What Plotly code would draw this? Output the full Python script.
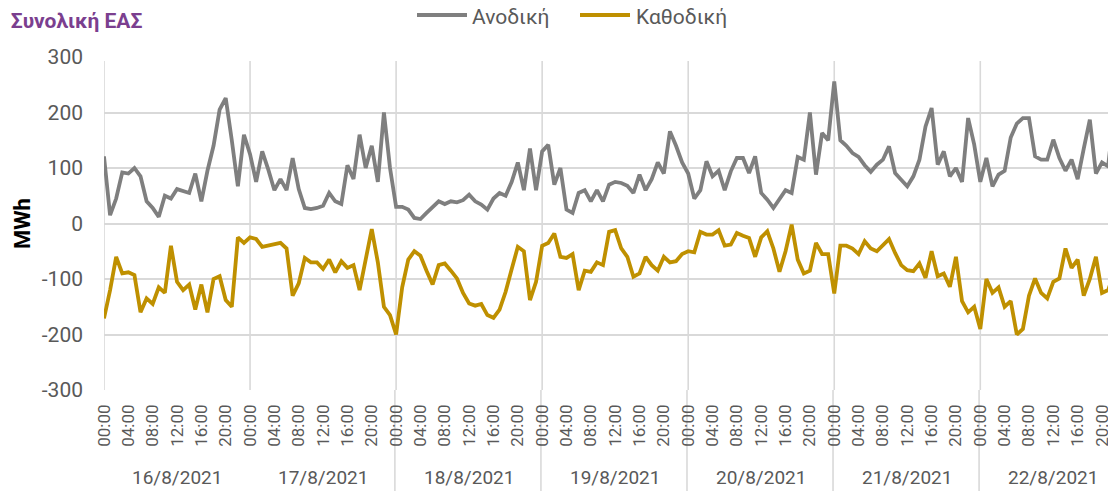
import plotly.graph_objects as go

# ---- data (hourly readings, MWh) ----
days = ["16/8/2021", "17/8/2021", "18/8/2021", "19/8/2021", "20/8/2021", "21/8/2021", "22/8/2021"]
hour_labels = ["00:00", "04:00", "08:00", "12:00", "16:00", "20:00"]
series_names = ["Ανοδική", "Καθοδική"]

anodiki_d1 = [121, 15, 45, 92, 90, 100, 85, 40, 28, 12, 50, 45, 62, 58, 55, 90, 40, 95, 140, 205, 226, 150, 67, 160]
anodiki_d2 = [125, 75, 130, 97, 60, 80, 60, 118, 62, 28, 26, 28, 32, 55, 40, 35, 105, 80, 160, 100, 140, 75, 200, 100]
anodiki_d3 = [30, 30, 25, 10, 8, 19, 30, 40, 35, 40, 38, 42, 52, 40, 34, 25, 45, 55, 50, 75, 110, 60, 135, 60]
anodiki_d4 = [130, 142, 70, 100, 25, 19, 55, 60, 40, 60, 40, 70, 75, 73, 68, 55, 88, 60, 80, 110, 90, 166, 140, 110]
anodiki_d5 = [90, 45, 60, 112, 85, 95, 60, 94, 118, 118, 91, 121, 55, 43, 28, 43, 60, 55, 120, 115, 200, 88, 163, 150]
anodiki_d6 = [256, 150, 140, 127, 120, 105, 93, 106, 115, 139, 91, 79, 67, 85, 115, 175, 208, 106, 130, 85, 100, 75, 190, 142]
anodiki_d7 = [75, 118, 67, 88, 95, 155, 180, 190, 190, 121, 115, 115, 151, 118, 95, 115, 80, 135, 187, 90, 110, 103, 200, 20]

kathodiki_d1 = [-171, -120, -60, -90, -88, -93, -160, -135, -145, -115, -125, -40, -105, -120, -110, -155, -110, -160, -100, -95, -138, -150, -25, -35]
kathodiki_d2 = [-25, -28, -42, -40, -38, -35, -45, -130, -108, -62, -70, -70, -82, -65, -88, -68, -80, -75, -120, -65, -10, -70, -150, -165]
kathodiki_d3 = [-200, -115, -65, -50, -58, -85, -110, -75, -72, -85, -99, -125, -144, -148, -145, -165, -170, -155, -123, -82, -42, -50, -138, -105]
kathodiki_d4 = [-40, -35, -18, -60, -62, -55, -120, -85, -87, -70, -75, -15, -12, -45, -60, -96, -90, -60, -75, -85, -60, -70, -68, -55]
kathodiki_d5 = [-50, -52, -15, -20, -20, -12, -40, -38, -17, -22, -26, -60, -25, -14, -45, -87, -50, -2, -65, -90, -85, -35, -55, -55]
kathodiki_d6 = [-126, -40, -40, -45, -55, -32, -45, -50, -40, -28, -53, -75, -84, -86, -72, -98, -50, -95, -90, -114, -60, -140, -160, -150]
kathodiki_d7 = [-190, -100, -125, -115, -150, -140, -200, -190, -130, -99, -125, -135, -105, -99, -45, -80, -65, -130, -100, -60, -125, -120, -90, -210]

anodiki = anodiki_d1 + anodiki_d2 + anodiki_d3 + anodiki_d4 + anodiki_d5 + anodiki_d6 + anodiki_d7
kathodiki = kathodiki_d1 + kathodiki_d2 + kathodiki_d3 + kathodiki_d4 + kathodiki_d5 + kathodiki_d6 + kathodiki_d7
hours = list(range(len(anodiki)))

# ---- layout constants ----
# the page body adds an 8px margin, so the figure is laid out in page pixels minus 8
OFF = 8
W, H = 1116 - OFF, 491 - OFF
ML, MR, MT = 104 - OFF, 0, 57 - OFF
MB = H - (390 - OFF)
PW, PH = W - ML - MR, H - MT - MB
FONT = "Roboto, Arial, sans-serif"
GRID = "#D9D9D9"
TXT = "#595959"
COLORS = ["#7F7F7F", "#BF9000"]

def py(p):  # page pixel y -> paper
    return (H - MB - (p - OFF)) / PH

def pxx(p):  # page pixel x -> paper
    return ((p - OFF) - ML) / PW

fig = go.Figure()
for name, vals, col in zip(series_names, [anodiki, kathodiki], COLORS):
    fig.add_trace(go.Scatter(x=hours, y=vals, mode="lines", name=name,
                             line=dict(color=col, width=3.8), showlegend=False))

tickvals = [d * 24 + h for d in range(len(days)) for h in range(0, 24, 4)]
ticktext = [hour_labels[(v % 24) // 4] for v in tickvals]

shapes = []
for d in range(len(days)):
    shapes.append(dict(type="line", xref="x", yref="paper", x0=d * 24, x1=d * 24,
                       y0=0, y1=py(61), line=dict(color=GRID, width=1.6), layer="below"))
    if d != 1:
        shapes.append(dict(type="line", xref="x", yref="paper", x0=d * 24 - 0.2, x1=d * 24 - 0.2,
                           y0=0, y1=py(493), line=dict(color=GRID, width=1.6), layer="below"))

annotations = []
for d, lab in enumerate(days):
    annotations.append(dict(x=d * 24 + 12, xref="x", y=py(477), yref="paper",
                            text=lab, showarrow=False, xanchor="center", yanchor="middle",
                            font=dict(family=FONT, size=19, color=TXT)))
annotations.append(dict(x=pxx(-4), xref="paper", y=py(21), yref="paper",
                        text="<b>• Συνολική ΕΑΣ</b>", showarrow=False, xanchor="left", yanchor="middle",
                        font=dict(family=FONT, size=21, color="#7B3F8F")))
annotations.append(dict(x=pxx(22), xref="paper", y=py(224), yref="paper",
                        text="<b>MWh</b>", showarrow=False, textangle=-90, xanchor="center", yanchor="middle",
                        font=dict(family=FONT, size=22, color="#000000")))

# legend drawn at the top centre: line sample + label for each series
legend_pos = [(417, 467, 470), (580, 630, 634)]
for name, col, (l0, l1, tx) in zip(series_names, COLORS, legend_pos):
    shapes.append(dict(type="line", xref="paper", yref="paper", x0=pxx(l0), x1=pxx(l1),
                       y0=py(15), y1=py(15), line=dict(color=col, width=3.8)))
    annotations.append(dict(x=pxx(tx), xref="paper", y=py(17), yref="paper", text=name,
                            showarrow=False, xanchor="left", yanchor="middle",
                            font=dict(family=FONT, size=21, color=TXT)))

fig.update_layout(
    width=W, height=H,
    margin=dict(l=ML, r=MR, t=MT, b=MB, autoexpand=False),
    paper_bgcolor="white", plot_bgcolor="white",
    font=dict(family=FONT, color=TXT),
    showlegend=False,
    xaxis=dict(range=[0, 166.3], showgrid=False, zeroline=False, showline=False, automargin=False,
               tickmode="array", tickvals=tickvals, ticktext=ticktext, tickangle=-90,
               ticks="", ticklabelstandoff=10,
               tickfont=dict(family=FONT, size=17, color=TXT)),
    yaxis=dict(range=[-300, 300], tickmode="array", tickvals=[-300, -200, -100, 0, 100, 200, 300],
               ticktext=["-300", "-200", "-100", "0", "100", "200", "300"], automargin=False,
               showgrid=True, gridcolor=GRID, gridwidth=1.6,
               zeroline=True, zerolinecolor=GRID, zerolinewidth=1.6,
               showline=False, ticks="", ticklabelstandoff=20,
               tickfont=dict(family=FONT, size=21, color=TXT)),
    shapes=shapes,
    annotations=annotations,
)

fig.write_html("out.html")
